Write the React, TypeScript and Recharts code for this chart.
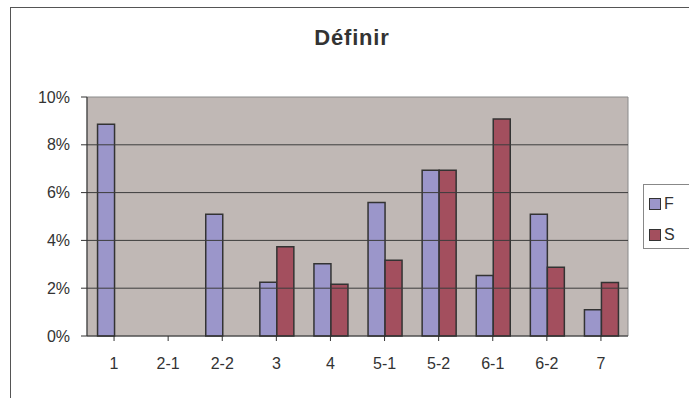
import React from "react";
import { Bar, BarChart, ReferenceArea, ReferenceLine, XAxis, YAxis } from "recharts";

const categories = ["1", "2-1", "2-2", "3", "4", "5-1", "5-2", "6-1", "6-2", "7"];
const seriesF = [8.86, null, 5.09, 2.25, 3.02, 5.59, 6.93, 2.53, 5.09, 1.1];
const seriesS = [null, null, null, 3.73, 2.17, 3.17, 6.93, 9.08, 2.88, 2.24];
const yTicks = [0, 2, 4, 6, 8, 10];
const gridLines = [2, 4, 6, 8];

const seriesInfo = [
  { key: "F", color: "#9b96ca" },
  { key: "S", color: "#a34f5e" }
];

const data = categories.map((name, i) => ({ name, F: seriesF[i], S: seriesS[i] }));

const FONT = "'Liberation Sans', Arial, sans-serif";

export default function App() {
  return (
    <div
      style={{
        position: "absolute",
        left: 0,
        top: 0,
        width: 689,
        height: 398,
        overflow: "hidden",
        background: "#fff",
        fontFamily: FONT
      }}
    >
      <div
        style={{
          position: "absolute",
          left: 10,
          top: 7,
          width: 760,
          height: 420,
          border: "1.5px solid #555",
          boxSizing: "border-box"
        }}
      />
      <div
        style={{
          position: "absolute",
          left: 0,
          top: 27,
          width: 704,
          textAlign: "center",
          fontSize: 22,
          lineHeight: "22px",
          fontWeight: "bold",
          letterSpacing: 0.8,
          color: "#333"
        }}
      >
        Définir
      </div>
      <div style={{ position: "absolute", left: 0, top: 0 }}>
        <BarChart
          width={689}
          height={398}
          data={data}
          margin={{ top: 97, right: 61, bottom: 32, left: 0 }}
          barCategoryGap="19.5%"
          barGap={0}
        >
          <ReferenceArea y1={0} y2={10} fill="#c0b8b5" fillOpacity={1} stroke="#8a8a8a" strokeWidth={1} />
          {gridLines.map((v) => (
            <ReferenceLine key={v} y={v} stroke="#3c3c3c" strokeWidth={1} />
          ))}
          <XAxis
            dataKey="name"
            height={30}
            tickSize={5}
            tickMargin={17}
            interval={0}
            stroke="#333"
            tick={{ fontSize: 16, fill: "#333", fontFamily: FONT }}
          />
          <YAxis
            width={87}
            domain={[0, 10]}
            ticks={yTicks}
            tickSize={6}
            tickMargin={11}
            stroke="#333"
            tickFormatter={(v: number) => `${v}%`}
            tick={{ fontSize: 16, fill: "#333", fontFamily: FONT }}
          />
          {seriesInfo.map((s) => (
            <Bar
              key={s.key}
              dataKey={s.key}
              fill={s.color}
              stroke="#333"
              strokeWidth={1.5}
              isAnimationActive={false}
            />
          ))}
        </BarChart>
      </div>
      <div
        style={{
          position: "absolute",
          left: 643,
          top: 184,
          width: 80,
          height: 65,
          border: "1px solid #888",
          boxSizing: "border-box"
        }}
      >
        {seriesInfo.map((s, i) => (
          <div
            key={s.key}
            style={{
              position: "absolute",
              left: 5,
              top: 11 + i * 31,
              display: "flex",
              alignItems: "center",
              fontSize: 16,
              color: "#333",
              lineHeight: "16px"
            }}
          >
            <span
              style={{
                display: "inline-block",
                width: 10,
                height: 10,
                background: s.color,
                border: "1px solid #333",
                marginRight: 3
              }}
            />
            {s.key}
          </div>
        ))}
      </div>
    </div>
  );
}
